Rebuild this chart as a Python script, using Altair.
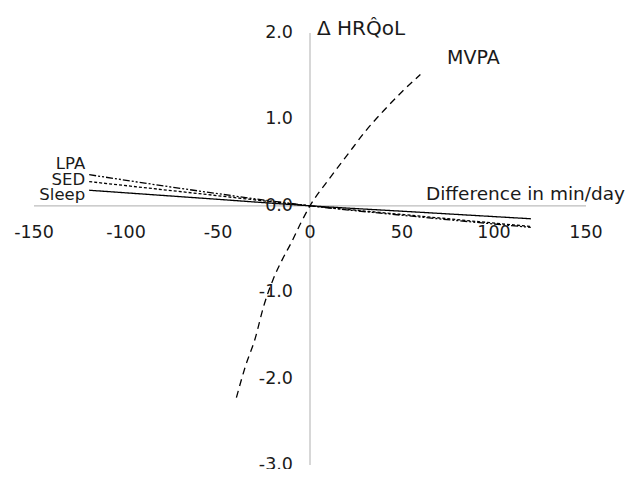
import altair as alt
import pandas as pd

# ---- data ----
mvpa_x = [-40, -35, -30, -25, -20, -15, -10, -5, 0, 10, 20, 30, 40, 50, 60]
mvpa_y = [-2.22, -1.85, -1.55, -1.15, -0.85, -0.62, -0.42, -0.2, 0.0, 0.3, 0.58, 0.86, 1.1, 1.32, 1.52]

lin_x = [-120, -60, 0, 60, 120]
sleep_y = [0.18, 0.09, 0.0, -0.075, -0.15]
sed_y = [0.28, 0.14, 0.0, -0.12, -0.24]
lpa_y = [0.36, 0.17, 0.0, -0.13, -0.25]

x_ticks = [-150, -100, -50, 0, 50, 100, 150]
y_ticks = [2.0, 1.0, 0.0, -1.0, -2.0, -3.0]

FONT = "DejaVu Sans"
TXT = "#1a1a1a"

xs = alt.Scale(domain=[-150, 150], nice=False, zero=False)
ys = alt.Scale(domain=[-3, 2], nice=False, zero=False)

rows = []
for name, yv in [("Sleep", sleep_y), ("SED", sed_y), ("LPA", lpa_y)]:
    for x, y in zip(lin_x, yv):
        rows.append({"series": name, "x": x, "y": y})
for x, y in zip(mvpa_x, mvpa_y):
    rows.append({"series": "MVPA", "x": x, "y": y})
df = pd.DataFrame(rows)

base = alt.Chart(df)

X = lambda: alt.X("x:Q", scale=xs, axis=None)
Y = lambda: alt.Y("y:Q", scale=ys, axis=None)

# axis lines
hline = alt.Chart(pd.DataFrame({"x": [-150], "x2": [150], "y": [0]})).mark_rule(
    color="#bdbdbd", strokeWidth=1.2
).encode(x=X(), x2="x2:Q", y=Y())
vline = alt.Chart(pd.DataFrame({"x": [0], "y": [-3], "y2": [2]})).mark_rule(
    color="#bdbdbd", strokeWidth=1.2
).encode(x=X(), y=Y(), y2="y2:Q")

dash = {"Sleep": [1, 0], "SED": [3, 2], "LPA": [7, 2, 2, 2, 2, 2], "MVPA": [7, 5]}

def series_line(name):
    return base.transform_filter(alt.datum.series == name).mark_line(
        color="black", strokeWidth=1.3, strokeDash=dash[name], interpolate="monotone"
    ).encode(x=X(), y=Y(), order="x:Q")

lines = [series_line(n) for n in ["Sleep", "SED", "LPA", "MVPA"]]

# tick labels
xlab_df = pd.DataFrame({"x": x_ticks, "y": [0] * len(x_ticks), "t": [str(v) for v in x_ticks]})
xlabels = alt.Chart(xlab_df).mark_text(
    font=FONT, fontSize=17.5, color=TXT, dy=27, baseline="middle", align="center"
).encode(x=X(), y=Y(), text="t:N")

ylab_df = pd.DataFrame({"x": [0] * len(y_ticks), "y": y_ticks, "t": [f"{v:.1f}" for v in y_ticks]})
ylabels = alt.Chart(ylab_df).mark_text(
    font=FONT, fontSize=17.5, color=TXT, dx=-17, baseline="middle", align="right"
).encode(x=X(), y=Y(), text="t:N")

# series labels
lab_df = pd.DataFrame({
    "x": [-120, -120, -120],
    "y": [0.48, 0.30, 0.12],
    "t": ["LPA", "SED", "Sleep"],
})
series_labels = alt.Chart(lab_df).mark_text(
    font=FONT, fontSize=16.5, color=TXT, dx=-4, baseline="middle", align="right"
).encode(x=X(), y=Y(), text="t:N")

mv_df = pd.DataFrame({"x": [74.5], "y": [1.71], "t": ["MVPA"]})
mv_label = alt.Chart(mv_df).mark_text(
    font=FONT, fontSize=19, color=TXT, baseline="middle", align="left"
).encode(x=X(), y=Y(), text="t:N")

xt_df = pd.DataFrame({"x": [63], "y": [0.14], "t": ["Difference in min/day"]})
x_title = alt.Chart(xt_df).mark_text(
    font=FONT, fontSize=18.5, color=TXT, baseline="middle", align="left"
).encode(x=X(), y=Y(), text="t:N")

yt_df = pd.DataFrame({"x": [0], "y": [2.0], "t": ["\u0394 HRQ\u0302oL"]})
y_title = alt.Chart(yt_df).mark_text(
    font=FONT, fontSize=20, color=TXT, dx=7, dy=-4, baseline="middle", align="left"
).encode(x=X(), y=Y(), text="t:N")

chart = alt.layer(
    hline, vline, *lines, xlabels, ylabels, series_labels, mv_label, x_title, y_title
).properties(
    width=552, height=432, autosize="none", background="white",
    padding={"left": 26, "top": 25, "right": 41, "bottom": 4},
).configure_view(strokeWidth=0, stroke="transparent")

chart.save("out.html", embed_options={"renderer": "svg", "actions": False})
